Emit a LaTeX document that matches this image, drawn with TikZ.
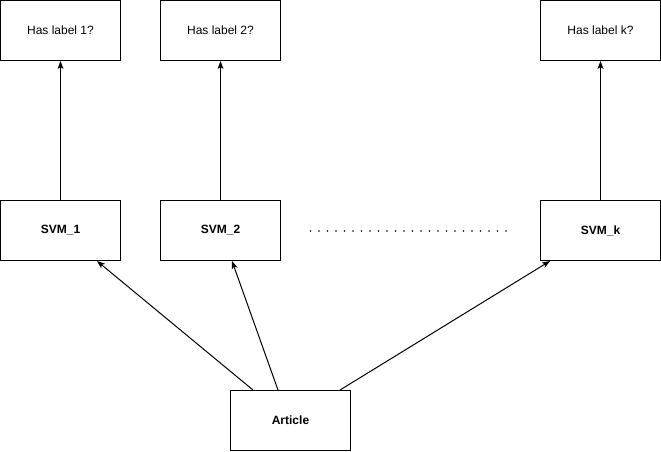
\documentclass[tikz,border=0pt]{standalone}
\usepackage{fontspec}
\setmainfont{Liberation Sans}
\usetikzlibrary{arrows.meta,calc}
\begin{document}
\begin{tikzpicture}[x=1pt,y=-1pt,
  box/.style={draw,line width=1pt,minimum width=120pt,minimum height=60pt,inner sep=0pt,
    font=\fontsize{12}{14}\selectfont},
  bold/.style={font=\fontsize{12}{14}\selectfont\bfseries},
  link/.style={line width=1pt,-{Stealth[length=8pt,width=6pt,inset=2pt]}}]
  \useasboundingbox (0,0) rectangle (661,451);
  % query boxes
  \node[box] (q1) at (60.5,30.5) {Has label 1?};
  \node[box] (q2) at (220.5,30.5) {Has label 2?};
  \node[box] (qk) at (600.5,30.5) {Has label k?};
  % classifiers
  \node[box,bold] (s1) at (60.5,230.5) {SVM\_1};
  \node[box,bold] (s2) at (220.5,230.5) {SVM\_2};
  \node[box,bold] (sk) at (600.5,230.5) {SVM\_k};
  % input
  \node[box,bold] (art) at (290.5,420.5) {Article};
  % classifier to query
  \draw[link] (s1) -- (q1);
  \draw[link] (s2) -- (q2);
  \draw[link] (sk) -- (qk);
  % article to classifiers
  \draw[link] ($(art.north west)+(23,0)$) -- ($(s1.south west)+(97,0)$);
  \draw[link] ($(art.north west)+(48,0)$) -- ($(s2.south west)+(72,0)$);
  \draw[link] ($(art.north west)+(110,0)$) -- ($(sk.south west)+(10,0)$);
  % ellipsis between classifiers
  \coordinate (d1) at (310.5,231);
  \coordinate (d2) at (506,231);
  \draw[line width=1.8pt,line cap=round,dash pattern=on 0pt off 8.5pt] (d1) -- (d2);
\end{tikzpicture}
\end{document}
